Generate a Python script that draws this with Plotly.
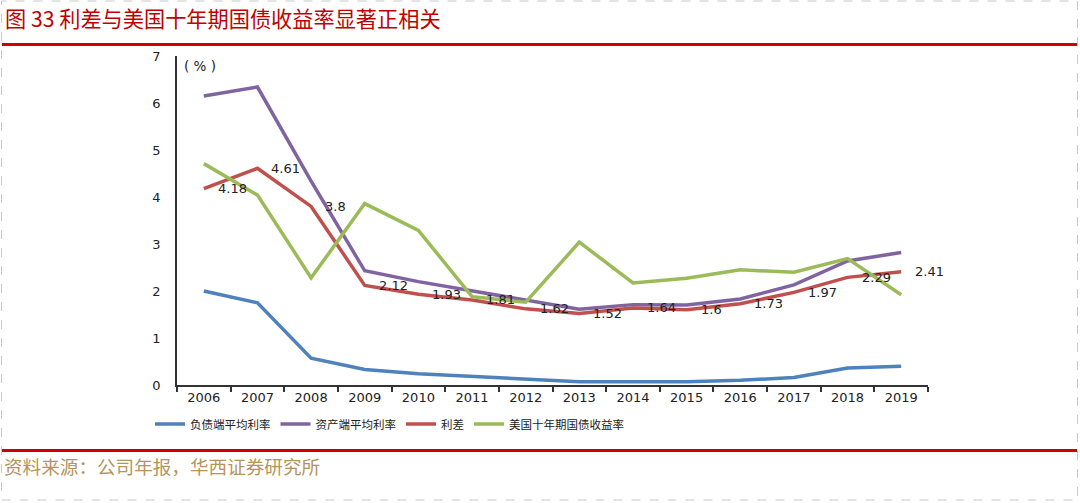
import plotly.graph_objects as go

years = ["2006", "2007", "2008", "2009", "2010", "2011", "2012",
         "2013", "2014", "2015", "2016", "2017", "2018", "2019"]
liability_rate = [2.00, 1.75, 0.57, 0.33, 0.24, 0.18, 0.13, 0.07, 0.07, 0.07, 0.10, 0.16, 0.36, 0.40]
asset_rate = [6.15, 6.34, 4.34, 2.43, 2.20, 2.00, 1.80, 1.61, 1.71, 1.70, 1.83, 2.13, 2.64, 2.82]
spread = [4.18, 4.61, 3.8, 2.12, 1.93, 1.81, 1.62, 1.52, 1.64, 1.6, 1.73, 1.97, 2.29, 2.41]
us10y = [4.71, 4.04, 2.28, 3.86, 3.29, 1.88, 1.76, 3.04, 2.17, 2.27, 2.45, 2.40, 2.69, 1.92]

names = ["负债端平均利率", "资产端平均利率", "利差", "美国十年期国债收益率"]
colors = ["#4F81BD", "#8064A2", "#C0504D", "#9BBB59"]
series = [liability_rate, asset_rate, spread, us10y]

W, H = 1080, 503
L, R, T, B = 177, 928, 56, 385


def px(xp):
    return (xp - L) / (R - L)


def py(yp):
    return (B - yp) / (B - T)


fig = go.Figure()
for name, col, vals in zip(names, colors, series):
    fig.add_trace(go.Scatter(x=years, y=vals, name=name, mode="lines",
                             line=dict(color=col, width=3.5)))

tick_font = dict(family="DejaVu Sans", size=13, color="#222222")

annotations = []
for i, v in enumerate(spread):
    annotations.append(dict(x=i, y=v, xref="x", yref="y", text=f"{v:g}",
                            showarrow=False, xanchor="left", yanchor="middle",
                            xshift=12, font=tick_font))

annotations.append(dict(x=px(182), y=py(66), xref="paper", yref="paper",
                        text="( % )", showarrow=False, xanchor="left", yanchor="middle",
                        font=dict(family="DejaVu Sans", size=13.5, color="#222222")))
annotations.append(dict(x=px(3), y=py(17), xref="paper", yref="paper",
                        text="图 33 利差与美国十年期国债收益率显著正相关", showarrow=False,
                        xanchor="left", yanchor="middle",
                        font=dict(family="Noto Sans CJK SC", size=21.2, color="#C00000")))
annotations.append(dict(x=px(2), y=py(465), xref="paper", yref="paper",
                        text="资料来源：公司年报，华西证券研究所", showarrow=False,
                        xanchor="left", yanchor="middle",
                        font=dict(family="Noto Sans CJK SC", size=18.6, color="#B5945A")))

shapes = [
    dict(type="rect", xref="paper", yref="paper", x0=px(1.5), x1=px(1077.5),
         y0=py(500), y1=py(1), line=dict(color="#C8C8C8", width=1, dash="dash"),
         fillcolor="rgba(0,0,0,0)", layer="below"),
    dict(type="line", xref="paper", yref="paper", x0=px(2), x1=px(1077),
         y0=py(44.5), y1=py(44.5), line=dict(color="#D00000", width=3)),
    dict(type="line", xref="paper", yref="paper", x0=px(2), x1=px(1077),
         y0=py(450.5), y1=py(450.5), line=dict(color="#D00000", width=3)),
]

fig.update_layout(
    width=W, height=H,
    margin=dict(l=L, r=W - R, t=T, b=H - B, pad=0, autoexpand=False),
    paper_bgcolor="white", plot_bgcolor="white",
    showlegend=True,
    legend=dict(orientation="h", xref="container", yref="container",
                x=150 / W, y=1 - 424 / H, xanchor="left", yanchor="middle",
                font=dict(family="Noto Sans CJK SC", size=11.5, color="#222222"),
                itemwidth=30, tracegroupgap=0, bgcolor="rgba(0,0,0,0)"),
    annotations=annotations,
    shapes=shapes,
    xaxis=dict(type="category", range=[-0.5, 13.5], showgrid=False, zeroline=False,
               showline=True, linecolor="#333333", linewidth=1.5,
               ticks="outside", tickson="boundaries", ticklen=5, tickcolor="#333333",
               tickwidth=1.5, tickfont=tick_font),
    yaxis=dict(range=[0, 7], dtick=1, showgrid=False, zeroline=False,
               showline=True, linecolor="#333333", linewidth=1.5,
               ticks="", tickfont=tick_font, ticklabelstandoff=12),
)

fig.write_html("out.html", config={"displayModeBar": False},
               post_script="document.body.style.margin='0';document.body.style.overflow='hidden';")
